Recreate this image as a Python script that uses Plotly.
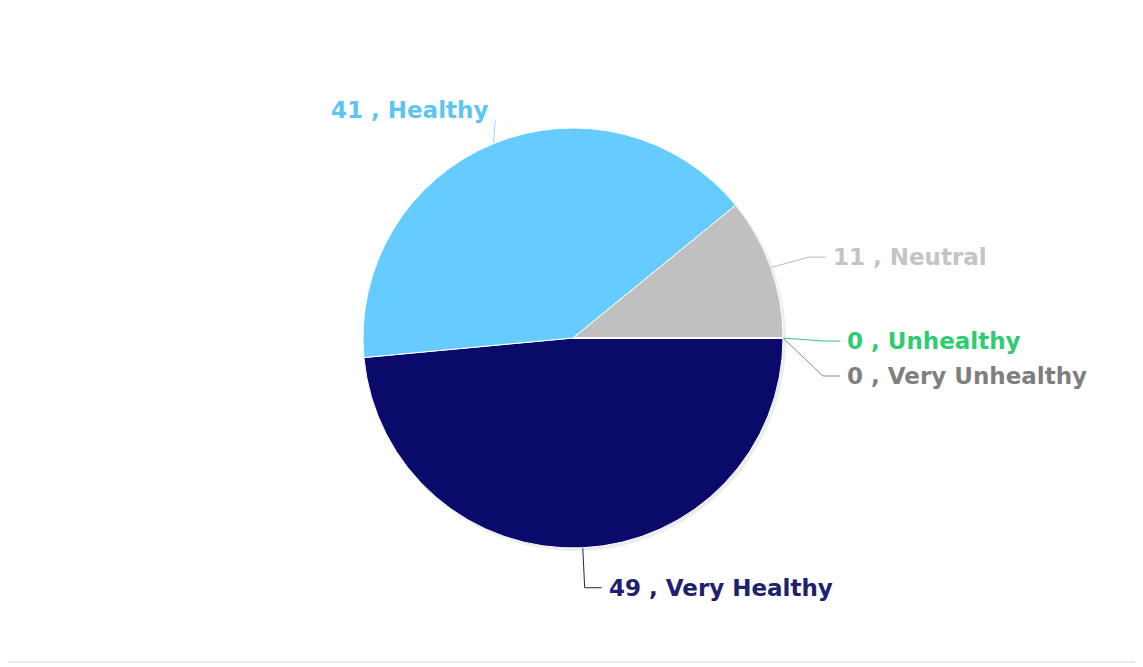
import math
import plotly.graph_objects as go

# ---- data ----
categories = ["Very Healthy", "Healthy", "Neutral", "Unhealthy", "Very Unhealthy"]
values = [49, 41, 11, 0, 0]

# ---- styles ----
slice_colors = ["#0a0a6b", "#66ccff", "#c0c0c0", "#33cc77", "#808080"]
label_colors = ["#20206e", "#5cc6f2", "#c4c4c4", "#2ecc71", "#7f7f7f"]
line_colors = ["#20206e", "#9fd9f5", "#b8b8b8", "#2ecc71", "#8a8a8a"]
break_nudge = [(0, 0), (17, 13), (0, 3), (0, 3), (0, 3)]   # px tweaks of connector break
text_nudge = [(0, 0), (17, -10), (0, 0), (0, 0), (0, 0)]   # px tweaks of label text
hseg = [17, 0, 17, 17, 17]                                  # horizontal connector length

OFF = 8            # page body margin in browser
W, H = 1143, 667
CX, CY, R = 573 - OFF, 338 - OFF, 210
DIST = 40          # radial distance of connector break
GAP = 35           # min vertical gap between labels on one side
TXT = 22           # text offset from break point

fig = go.Figure()

# pie shadow
fig.add_shape(type="circle", xref="x", yref="y", layer="below",
              x0=CX - R + 2, x1=CX + R + 3, y0=CY - R + 2, y1=CY + R + 3,
              fillcolor="rgba(0,0,0,0.07)", line=dict(width=0))

fig.add_trace(go.Pie(
    labels=categories, values=values, sort=False, direction="clockwise",
    rotation=90, textinfo="none", hoverinfo="label+value",
    marker=dict(colors=slice_colors, line=dict(color="white", width=1)),
    domain=dict(x=[(CX - R) / W, (CX + R) / W], y=[(H - CY - R) / H, (H - CY + R) / H]),
    showlegend=False,
))

# compute label positions from data
total = sum(values)
cum = 0
items = []
for i, v in enumerate(values):
    mid = (cum + v / 2) / total * 2 * math.pi  # clockwise from 3 o'clock, screen coords
    cum += v
    c, s = math.cos(mid), math.sin(mid)
    ex, ey = CX + R * c, CY + R * s
    bx, by = CX + (R + DIST) * c, CY + (R + DIST) * s
    side = 1 if c >= -1e-9 else -1
    items.append(dict(i=i, ex=ex, ey=ey, bx=bx, by=by, side=side))

# simple collision avoidance per side
for side in (1, -1):
    grp = sorted([it for it in items if it["side"] == side], key=lambda d: d["by"])
    for a, b in zip(grp, grp[1:]):
        if b["by"] - a["by"] < GAP:
            b["by"] = a["by"] + GAP

for it in items:
    i = it["i"]
    dx, dy = break_nudge[i]
    tx, ty = text_nudge[i]
    bx, by = it["bx"] + dx, it["by"] + dy
    side = it["side"]
    fig.add_trace(go.Scatter(
        x=[it["ex"], bx, bx + side * hseg[i]], y=[it["ey"], by, by],
        mode="lines", line=dict(color=line_colors[i], width=1),
        hoverinfo="skip", showlegend=False))
    fig.add_annotation(
        x=bx + side * TXT + tx, y=by + ty, xref="x", yref="y",
        text=f"{values[i]} , {categories[i]}", showarrow=False,
        xanchor="left" if side > 0 else "right", yanchor="middle",
        font=dict(family="DejaVu Sans", size=23, color=label_colors[i], weight="bold"))

# frame lines (right and bottom)
fig.add_shape(type="line", xref="paper", yref="y", x0=(1140 - OFF) / W, x1=(1140 - OFF) / W,
              y0=0, y1=662 - OFF, line=dict(color="#cccccc", width=2))
fig.add_shape(type="line", xref="x", yref="y", x0=0, x1=1141 - OFF, y0=662 - OFF, y1=662 - OFF,
              line=dict(color="#e2e2e2", width=1.5))

fig.update_layout(
    width=W, height=H, margin=dict(l=0, r=0, t=0, b=0),
    paper_bgcolor="white", plot_bgcolor="rgba(0,0,0,0)",
    xaxis=dict(range=[0, W], visible=False, fixedrange=True, domain=[0, 1]),
    yaxis=dict(range=[H, 0], visible=False, fixedrange=True, domain=[0, 1]),
)

fig.write_html("out.html")
